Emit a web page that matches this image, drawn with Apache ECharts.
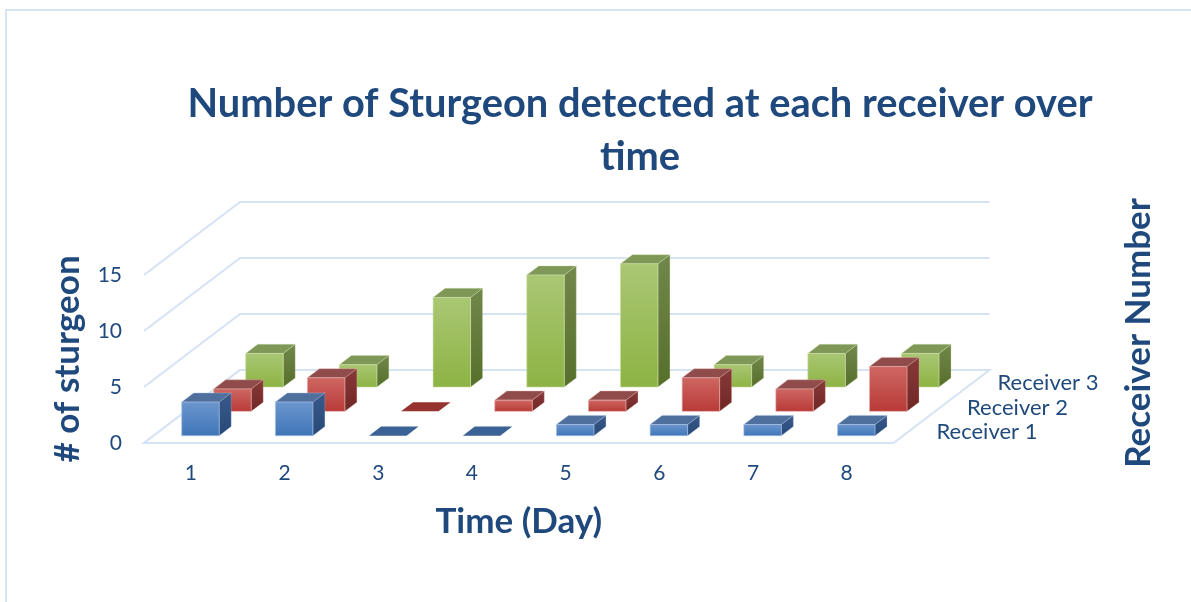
<!DOCTYPE html>
<html><head><meta charset="utf-8">
<style>html,body{margin:0;padding:0;background:#fff}#c{width:1191px;height:602px}</style>
<script src="https://cdn.jsdelivr.net/npm/echarts@6/dist/echarts.min.js"></script>
</head><body><div id="c"></div>
<script>
const categories = ['1','2','3','4','5','6','7','8'];
const receiver1 = [3,3,0,0,1,1,1,1];
const receiver2 = [2,3,0,1,1,3,2,4];
const receiver3 = [3,2,8,10,11,2,3,3];
const receiverNames = ['Receiver 1','Receiver 2','Receiver 3'];
const yTicks = [0,5,10,15];

const INK = '#1F497D', FONT = 'Lato, Carlito, sans-serif';
const DX = 96, DY = 73, ROWS = 3, BAR_DEPTH = 0.125, BAR_W = 0.4, FRONT = 0.3;
const G = echarts.graphic.LinearGradient;
const grad = (a,b) => new G(0,0,0,1,[{offset:0,color:a},{offset:1,color:b}]);
const palette = [
  {front:['#6C96CE','#3F76B8'], side:['#39598A','#264A78'], top:'#4F6F9C', flat:'#3A6295', edge:'#A9C3E4'},
  {front:['#CF6763','#B83A36'], side:['#88393A','#702724'], top:'#8F4C4A', flat:'#94332F', edge:'#E6B0AE'},
  {front:['#AAC774','#8DB343'], side:['#72874B','#566F2B'], top:'#7F9757', flat:'#7F9757', edge:'#CBDDA8'}
];

function shift(p, f){ return [p[0] + DX*f, p[1] - DY*f]; }

function wallRender(params, api){
  const v = api.value(1);
  const a = api.coord([0, v]), b = api.coord([categories.length-1, v]);
  const band = api.size([1,0])[0];
  const L = [a[0]-band/2, a[1]], R = [b[0]+band/2, b[1]];
  const line = {stroke:'#D5E3F4', lineWidth:2, fill:null};
  const pts = [L, shift(L,1), shift(R,1)];
  const kids = [{type:'polyline', shape:{points:pts}, style:line}];
  if (v === 0) kids.push({type:'polygon', shape:{points:[L,R,shift(R,1),shift(L,1)]}, style:{stroke:'#D5E3F4', lineWidth:2, fill:'#fff'}});
  return {type:'group', children:kids};
}

function barRender(row){
  return function(params, api){
    const i = api.value(0), v = api.value(1);
    const base = api.coord([i,0]), top = api.coord([i,v]);
    const w = api.size([1,0])[0]*BAR_W;
    const f = (row+FRONT)/ROWS, g = f+BAR_DEPTH;
    const c = palette[row];
    const x0 = base[0]-w/2, x1 = base[0]+w/2;
    const a = shift([x0,top[1]],f), b = shift([x1,top[1]],f);
    const d = shift([x1,base[1]],f), e = shift([x0,base[1]],f);
    const a2 = shift([x0,top[1]],g), b2 = shift([x1,top[1]],g), d2 = shift([x1,base[1]],g);
    const topFace = {type:'polygon', shape:{points:[a,b,b2,a2]}, style:{fill:v===0?c.flat:c.top, stroke:v===0?c.flat:c.edge, lineWidth:v===0?0:0.4}};
    if (v === 0) return {type:'group', children:[topFace]};
    return {type:'group', children:[
      {type:'polygon', shape:{points:[b,b2,d2,d]}, style:{fill:grad(c.side[0],c.side[1]), stroke:c.edge, lineWidth:0.3}},
      topFace,
      {type:'polygon', shape:{points:[a,b,d,e]}, style:{fill:grad(c.front[0],c.front[1]), stroke:c.edge, lineWidth:0.6}}
    ]};
  };
}

function receiverLabelRender(params, api){
  const row = api.value(0);
  const p = api.coord([categories.length-1, 0]);
  const band = api.size([1,0])[0];
  const q = shift([p[0]+band/2, p[1]], (row+0.5)/ROWS);
  return {type:'text', style:{x:q[0]+27-row*1.5, y:q[1]+1, text:receiverNames[row], fill:INK, font:'22px '+FONT, align:'left', verticalAlign:'middle'}};
}

const chart = echarts.init(document.getElementById('c'), null, {renderer:'canvas'});
const barSeries = [receiver3, receiver2, receiver1].map((vals, k) => ({
  type:'custom', name:receiverNames[2-k], coordinateSystem:'cartesian2d', clip:false, z:3+k,
  encode:{x:0,y:1}, renderItem:barRender(2-k),
  data:vals.map((v,i)=>[i,v])
}));

chart.setOption({
  animation:false,
  backgroundColor:'#fff',
  title:{text:'Number of Sturgeon detected at each receiver over\ntime', left:635, top:73, textAlign:'center',
    textStyle:{color:INK, fontFamily:FONT, fontWeight:'bold', fontSize:39.8, lineHeight:53}},
  grid:{left:144, top:275, width:749.5, height:168, containLabel:false},
  xAxis:{type:'category', data:categories, axisLine:{show:false}, axisTick:{show:false}, splitLine:{show:false},
    axisLabel:{color:INK, fontFamily:FONT, fontSize:21, margin:20},
    name:'Time (Day)', nameLocation:'middle', nameGap:61,
    nameTextStyle:{color:INK, fontFamily:FONT, fontWeight:'bold', fontSize:35}},
  yAxis:{type:'value', min:0, max:15, interval:5, axisLine:{show:false}, axisTick:{show:false}, splitLine:{show:false},
    axisLabel:{color:INK, fontFamily:FONT, fontSize:21, margin:22},
    name:'# of sturgeon', nameLocation:'middle', nameRotate:90, nameGap:59,
    nameTextStyle:{color:INK, fontFamily:FONT, fontWeight:'bold', fontSize:35}},
  graphic:[
    {type:'polyline', z:0, shape:{points:[[6,602],[6,10],[1191,10]]}, style:{stroke:'#D5E3F4', lineWidth:2, fill:null}},
    {type:'text', x:1139, y:333, rotation:Math.PI/2, style:{text:'Receiver Number', fill:INK, font:'bold 35px '+FONT, align:'center', verticalAlign:'middle'}}
  ],
  series:[
    {type:'custom', coordinateSystem:'cartesian2d', clip:false, z:1, encode:{x:0,y:1}, renderItem:wallRender,
      data:yTicks.map(t=>[0,t])},
    ...barSeries,
    {type:'custom', coordinateSystem:'cartesian2d', clip:false, z:6, encode:{x:0,y:1}, renderItem:receiverLabelRender,
      data:receiverNames.map((n,i)=>[i,0])}
  ]
});
</script></body></html>
